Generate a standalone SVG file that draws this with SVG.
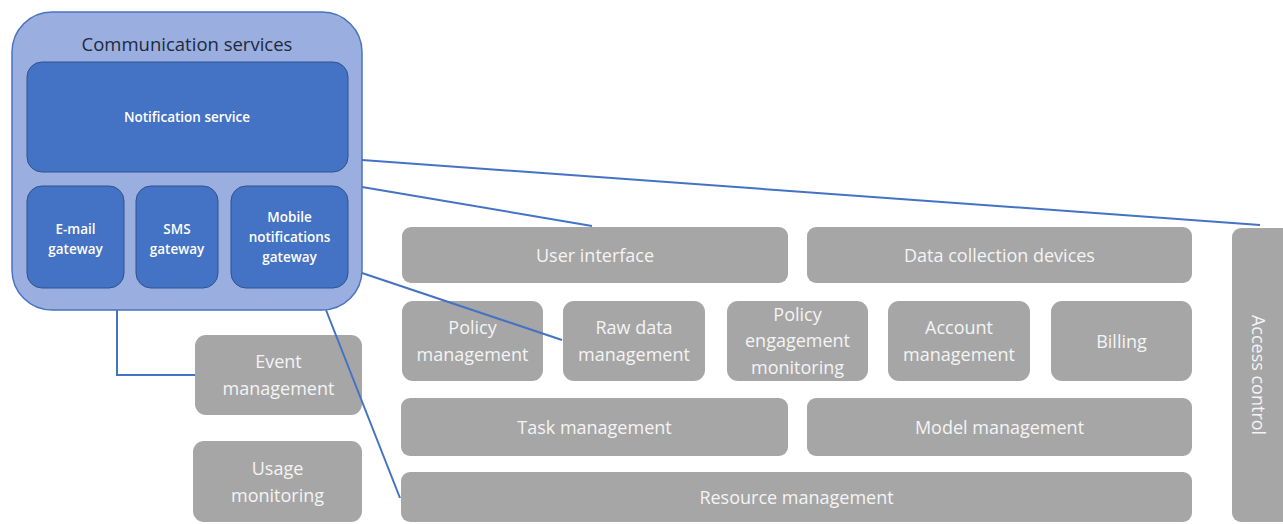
<svg xmlns="http://www.w3.org/2000/svg" width="1283" height="524" viewBox="0 0 1283 524">
<style>
.outer{fill:#9aaee0;stroke:#4a73c0;stroke-width:1.5}
.blue{fill:#4472c4;stroke:#2f528f;stroke-width:1}
.gray{fill:#a6a6a6}
.conn{fill:none;stroke:#4472c4;stroke-width:2}
.wt{font-family:"Open Sans","Noto Sans",sans-serif;fill:#ffffff;text-anchor:middle}
.gt{font-family:"Open Sans","Noto Sans",sans-serif;fill:#f4f4f4;text-anchor:middle;font-size:18px}
.sm{font-size:13.5px;font-weight:600}
</style>
<rect width="1283" height="524" fill="#ffffff"/>
<g id="communication-services">
<rect class="outer" x="12" y="12" width="350" height="298" rx="40"/>
<text x="187" y="51" font-family="'Open Sans','Noto Sans',sans-serif" font-size="18.5" fill="#1e2a3a" text-anchor="middle">Communication services</text>
</g>
<g id="notification-service">
<rect class="blue" x="27" y="62" width="321" height="110" rx="15"/>
<text class="wt sm" x="187" y="122">Notification service</text>
</g>
<g id="email-gateway">
<rect class="blue" x="27" y="186" width="97" height="102" rx="15"/>
<text class="wt sm" x="75.5" y="234">E-mail</text>
<text class="wt sm" x="75.5" y="254">gateway</text>
</g>
<g id="sms-gateway">
<rect class="blue" x="136" y="186" width="82" height="102" rx="15"/>
<text class="wt sm" x="177" y="234">SMS</text>
<text class="wt sm" x="177" y="254">gateway</text>
</g>
<g id="mobile-gateway">
<rect class="blue" x="231" y="186" width="117" height="102" rx="15"/>
<text class="wt sm" x="289.5" y="222">Mobile</text>
<text class="wt sm" x="289.5" y="242">notifications</text>
<text class="wt sm" x="289.5" y="262">gateway</text>
</g>
<g id="user-interface">
<rect class="gray" x="402" y="227" width="386" height="56" rx="9"/>
<text class="gt" x="595" y="261.5">User interface</text>
</g>
<g id="data-collection-devices">
<rect class="gray" x="807" y="227" width="385" height="56" rx="9"/>
<text class="gt" x="999.5" y="261.5">Data collection devices</text>
</g>
<g id="policy-management">
<rect class="gray" x="402" y="301" width="141" height="80" rx="11"/>
<text class="gt" x="472.5" y="334">Policy</text>
<text class="gt" x="472.5" y="361">management</text>
</g>
<g id="raw-data-management">
<rect class="gray" x="563" y="301" width="142" height="80" rx="11"/>
<text class="gt" x="634" y="334">Raw data</text>
<text class="gt" x="634" y="361">management</text>
</g>
<g id="policy-engagement-monitoring">
<rect class="gray" x="727" y="301" width="141" height="80" rx="11"/>
<text class="gt" x="797.5" y="320.5" font-size="17">Policy</text>
<text class="gt" x="797.5" y="347" font-size="17">engagement</text>
<text class="gt" x="797.5" y="373.5" font-size="17">monitoring</text>
</g>
<g id="account-management">
<rect class="gray" x="888" y="301" width="142" height="80" rx="11"/>
<text class="gt" x="959" y="334">Account</text>
<text class="gt" x="959" y="361">management</text>
</g>
<g id="billing">
<rect class="gray" x="1051" y="301" width="141" height="80" rx="11"/>
<text class="gt" x="1121.5" y="347.5">Billing</text>
</g>
<g id="task-management">
<rect class="gray" x="401" y="398" width="387" height="58" rx="9"/>
<text class="gt" x="594.5" y="433.5">Task management</text>
</g>
<g id="model-management">
<rect class="gray" x="807" y="398" width="385" height="58" rx="9"/>
<text class="gt" x="999.5" y="433.5">Model management</text>
</g>
<g id="resource-management">
<rect class="gray" x="401" y="472" width="791" height="50" rx="9"/>
<text class="gt" x="796.5" y="503.5">Resource management</text>
</g>
<g id="event-management">
<rect class="gray" x="195" y="335" width="167" height="80" rx="11"/>
<text class="gt" x="278.5" y="368">Event</text>
<text class="gt" x="278.5" y="395">management</text>
</g>
<g id="usage-monitoring">
<rect class="gray" x="193" y="441" width="169" height="81" rx="11"/>
<text class="gt" x="277.5" y="474.5">Usage</text>
<text class="gt" x="277.5" y="501.5">monitoring</text>
</g>
<g id="access-control">
<rect class="gray" x="1232" y="228" width="70" height="294" rx="9"/>
<text class="gt" transform="translate(1258,375) rotate(90)" x="0" y="6">Access control</text>
</g>
<g id="connectors">
<path class="conn" d="M362,160 L1260,225"/>
<path class="conn" d="M362,187 L592,226"/>
<path class="conn" d="M362,273 L562,340"/>
<path class="conn" d="M117,310 L117,375 L195,375"/>
<path class="conn" d="M326,310 L400,498"/>
</g>
</svg>
